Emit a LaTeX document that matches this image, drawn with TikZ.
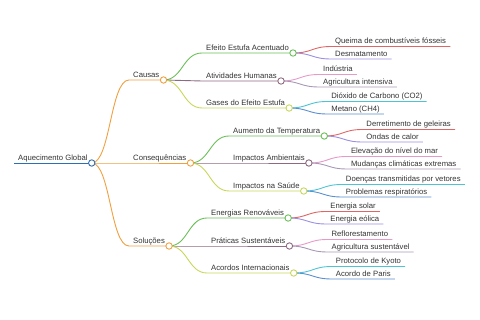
\documentclass[tikz,border=0pt]{standalone}
\usepackage{fontspec}
\setmainfont{Liberation Sans}
\usetikzlibrary{calc}
\definecolor{ctext}{HTML}{333333}
\definecolor{croot}{HTML}{2F6DB5}
\definecolor{corange}{HTML}{F0A040}
\definecolor{cgreen}{HTML}{6BBF59}
\definecolor{cmauve}{HTML}{8E6A80}
\definecolor{cyellow}{HTML}{C9D65A}
\definecolor{cred}{HTML}{E06666}
\definecolor{cviolet}{HTML}{9A8FE0}
\definecolor{cpink}{HTML}{E69AC8}
\definecolor{cgrape}{HTML}{A699B5}
\definecolor{ccyan}{HTML}{4FC3D6}
\definecolor{cblue}{HTML}{5B8FD0}
\tikzset{
  topic/.style={anchor=south west, inner xsep=4pt, inner ysep=2.5pt, text depth=0pt, text=ctext, font=\fontsize{7.7}{9}\selectfont},
  dot/.style={circle, draw=#1, fill=white, line width=0.9pt, inner sep=0pt, minimum size=6.4pt},
  branch/.style={draw=#1, line width=0.9pt},
  curvy/.style={to path={let \p1=(\tikztostart), \p2=(\tikztotarget) in .. controls ({(\x1+\x2)/2},\y1) and ({(\x1+\x2)/2},\y2) .. (\tikztotarget)}},
}

\begin{document}
\begin{tikzpicture}[x=1pt, y=-1pt]
  \useasboundingbox (0,0) rectangle (480,320);
  \node[topic] (root) at (14,163) {Aquecimento Global};
  \node[topic] (causas) at (129,80) {Causas};
  \node[topic] (conseq) at (129,163) {Consequências};
  \node[topic] (solucoes) at (129,246) {Soluções};
  % second level
  \node[topic] (efeito) at (202,53) {Efeito Estufa Acentuado};
  \node[topic] (ativ) at (202,81) {Atividades Humanas};
  \node[topic] (gases) at (202,108) {Gases do Efeito Estufa};
  \node[topic] (aumento) at (229,136) {Aumento da Temperatura};
  \node[topic] (ambient) at (229,163) {Impactos Ambientais};
  \node[topic] (saude) at (229,191) {Impactos na Saúde};
  \node[topic] (renov) at (207,218) {Energias Renováveis};
  \node[topic] (praticas) at (207,246) {Práticas Sustentáveis};
  \node[topic] (acordos) at (207,273) {Acordos Internacionais};
  % leaves
  \node[topic] (queima) at ([shift={(38,-6.5)}]efeito.south east) {Queima de combustíveis fósseis};
  \node[topic] (desmat) at ([shift={(38,6)}]efeito.south east) {Desmatamento};
  \node[topic] (industria) at ([shift={(38,-6.5)}]ativ.south east) {Indústria};
  \node[topic] (agric) at ([shift={(38,6)}]ativ.south east) {Agricultura intensiva};
  \node[topic] (dioxido) at ([shift={(38,-6.5)}]gases.south east) {Dióxido de Carbono (CO2)};
  \node[topic] (metano) at ([shift={(38,6)}]gases.south east) {Metano (CH4)};
  \node[topic] (derret) at ([shift={(38,-6.5)}]aumento.south east) {Derretimento de geleiras};
  \node[topic] (ondas) at ([shift={(38,6)}]aumento.south east) {Ondas de calor};
  \node[topic] (elevacao) at ([shift={(38,-6.5)}]ambient.south east) {Elevação do nível do mar};
  \node[topic] (mudancas) at ([shift={(38,6)}]ambient.south east) {Mudanças climáticas extremas};
  \node[topic] (doencas) at ([shift={(38,-6.5)}]saude.south east) {Doenças transmitidas por vetores};
  \node[topic] (problemas) at ([shift={(38,6)}]saude.south east) {Problemas respiratórios};
  \node[topic] (solar) at ([shift={(38,-6.5)}]renov.south east) {Energia solar};
  \node[topic] (eolica) at ([shift={(38,6)}]renov.south east) {Energia eólica};
  \node[topic] (reflor) at ([shift={(38,-6.5)}]praticas.south east) {Reflorestamento};
  \node[topic] (agrsust) at ([shift={(38,6)}]praticas.south east) {Agricultura sustentável};
  \node[topic] (kyoto) at ([shift={(38,-6.5)}]acordos.south east) {Protocolo de Kyoto};
  \node[topic] (paris) at ([shift={(38,6)}]acordos.south east) {Acordo de Paris};
  % branches
  \draw[branch=croot] (root.south west) -- (root.south east);
  \foreach \kid in {causas, conseq, solucoes}
    \draw[branch=corange] (root.south east) to[curvy] (\kid.south west) -- (\kid.south east);
  \foreach \mom/\a/\b/\c in {causas/efeito/ativ/gases, conseq/aumento/ambient/saude, solucoes/renov/praticas/acordos} {
    \draw[branch=cgreen] (\mom.south east) to[curvy] (\a.south west) -- (\a.south east);
    \draw[branch=cmauve] (\mom.south east) to[curvy] (\b.south west) -- (\b.south east);
    \draw[branch=cyellow] (\mom.south east) to[curvy] (\c.south west) -- (\c.south east);
  }
  \foreach \mom/\up/\dn/\cu/\cd in {efeito/queima/desmat/cred/cviolet, ativ/industria/agric/cpink/cgrape,
      gases/dioxido/metano/ccyan/cblue, aumento/derret/ondas/cred/cviolet, ambient/elevacao/mudancas/cpink/cgrape,
      saude/doencas/problemas/ccyan/cblue, renov/solar/eolica/cred/cviolet, praticas/reflor/agrsust/cpink/cgrape,
      acordos/kyoto/paris/ccyan/cblue} {
    \draw[branch=\cu] (\mom.south east) to[curvy] (\up.south west) -- (\up.south east);
    \draw[branch=\cd] (\mom.south east) to[curvy] (\dn.south west) -- (\dn.south east);
  }
  % knots
  \node[dot=croot] (root-c) at (root.south east) {};
  \foreach \n in {causas, conseq, solucoes}
    \node[dot=corange] (\n-c) at (\n.south east) {};
  \foreach \n in {efeito, aumento, renov}
    \node[dot=cgreen] (\n-c) at (\n.south east) {};
  \foreach \n in {ativ, ambient, praticas}
    \node[dot=cmauve] (\n-c) at (\n.south east) {};
  \foreach \n in {gases, saude, acordos}
    \node[dot=cyellow] (\n-c) at (\n.south east) {};
\end{tikzpicture}
\end{document}
